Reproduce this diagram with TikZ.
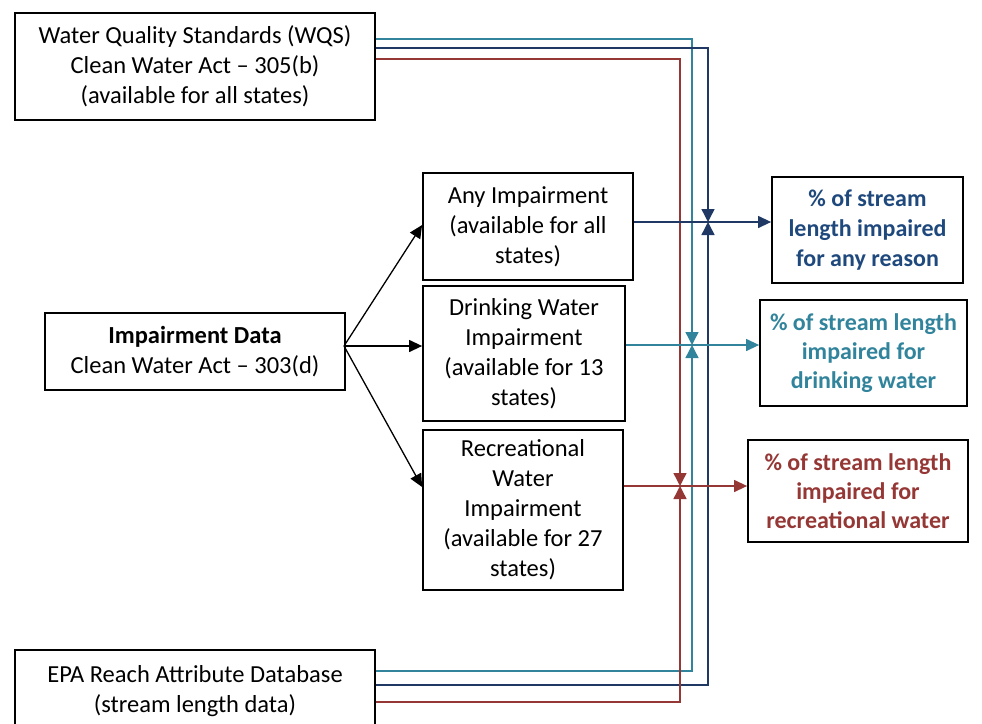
\documentclass[tikz,border=0pt]{standalone}
\usepackage{fontspec}
\setmainfont{Carlito}
\usetikzlibrary{arrows.meta, positioning}
\definecolor{lineblue}{RGB}{31,56,100}
\definecolor{textblue}{RGB}{31,73,125}
\definecolor{teal}{RGB}{49,132,155}
\definecolor{brickred}{RGB}{149,55,53}

\begin{document}
\begin{tikzpicture}[
		x=1pt, y=-1pt,
		every node/.style={
				draw,
				line width=1.8pt,
				align=center,
				inner sep=0pt,
				font=\fontsize{24.5}{30}\selectfont
			},
		conn/.style={line width=1.3pt, -{Triangle[length=13pt, width=12pt]}},
		feed/.style={line width=1.4pt, -{Triangle[length=13pt, width=13pt]}}
	]
	\useasboundingbox (0,0) rectangle (982,723);
	\clip (0,0) rectangle (982,723);

	% sources
	\node[minimum width=360pt, minimum height=107pt] (wqs) at (195,66.5)
	{Water Quality Standards (WQS)\\Clean Water Act -- 305(b)\\(available for all states)};
	\node[minimum width=300pt, minimum height=77pt] (imp) at (195,351.5)
	{\bfseries Impairment Data\\Clean Water Act -- 303(d)};
	\node[minimum width=360pt, minimum height=82pt] (epa) at (195,691)
	{EPA Reach Attribute Database\\(stream length data)};

	% impairment types
	\node[minimum width=210pt, minimum height=107pt] (any) at (528,226.5)
	{Any Impairment\\(available for all\\states)};
	\node[minimum width=202pt, minimum height=135pt] (drink) at (524,353.5)
	{Drinking Water\\Impairment\\(available for 13\\states)};
	\node[minimum width=200pt, minimum height=160pt] (rec) at (523,510)
	{Recreational\\Water\\Impairment\\(available for 27\\states)};

	% outputs
	\node[minimum width=191pt, minimum height=106pt, text=textblue, font=\fontsize{24}{30}\selectfont\bfseries] (outany) at (867.5,230)
	{\% of stream\\length impaired\\for any reason};
	\node[minimum width=207pt, minimum height=106pt, text=teal, font=\fontsize{24}{29}\selectfont\bfseries] (outdrink) at (863.5,353)
	{\% of stream length\\impaired for\\drinking water};
	\node[minimum width=220pt, minimum height=102pt, text=brickred, font=\fontsize{24}{29}\selectfont\bfseries] (outrec) at (858,491)
	{\% of stream length\\impaired for\\recreational water};

	% junctions
	\coordinate (jany) at (708,222);
	\coordinate (jdrink) at (692,345);
	\coordinate (jrec) at (680,486);
	\coordinate (src) at (344,346);

	\draw[conn] (src) -- (any.west |- 0,225);
	\draw[conn] (src) -- (drink.west |- 0,346);
	\draw[conn] (src) -- (rec.west |- 0,487);

	\draw[feed, teal] (wqs.east |- 0,39) -| (jdrink);
	\draw[feed, lineblue] (wqs.east |- 0,48) -| (jany);
	\draw[feed, brickred] (wqs.east |- 0,59) -| (jrec);

	\draw[feed, teal] (epa.east |- 0,671) -| (jdrink);
	\draw[feed, lineblue] (epa.east |- 0,685) -| (jany);
	\draw[feed, brickred] (epa.east |- 0,702) -| (jrec);

	\draw[conn, lineblue] (any.east |- jany) -- (outany.west |- jany);
	\draw[conn, teal] (drink.east |- jdrink) -- (outdrink.west |- jdrink);
	\draw[conn, brickred] (rec.east |- jrec) -- (outrec.west |- jrec);
\end{tikzpicture}
\end{document}
